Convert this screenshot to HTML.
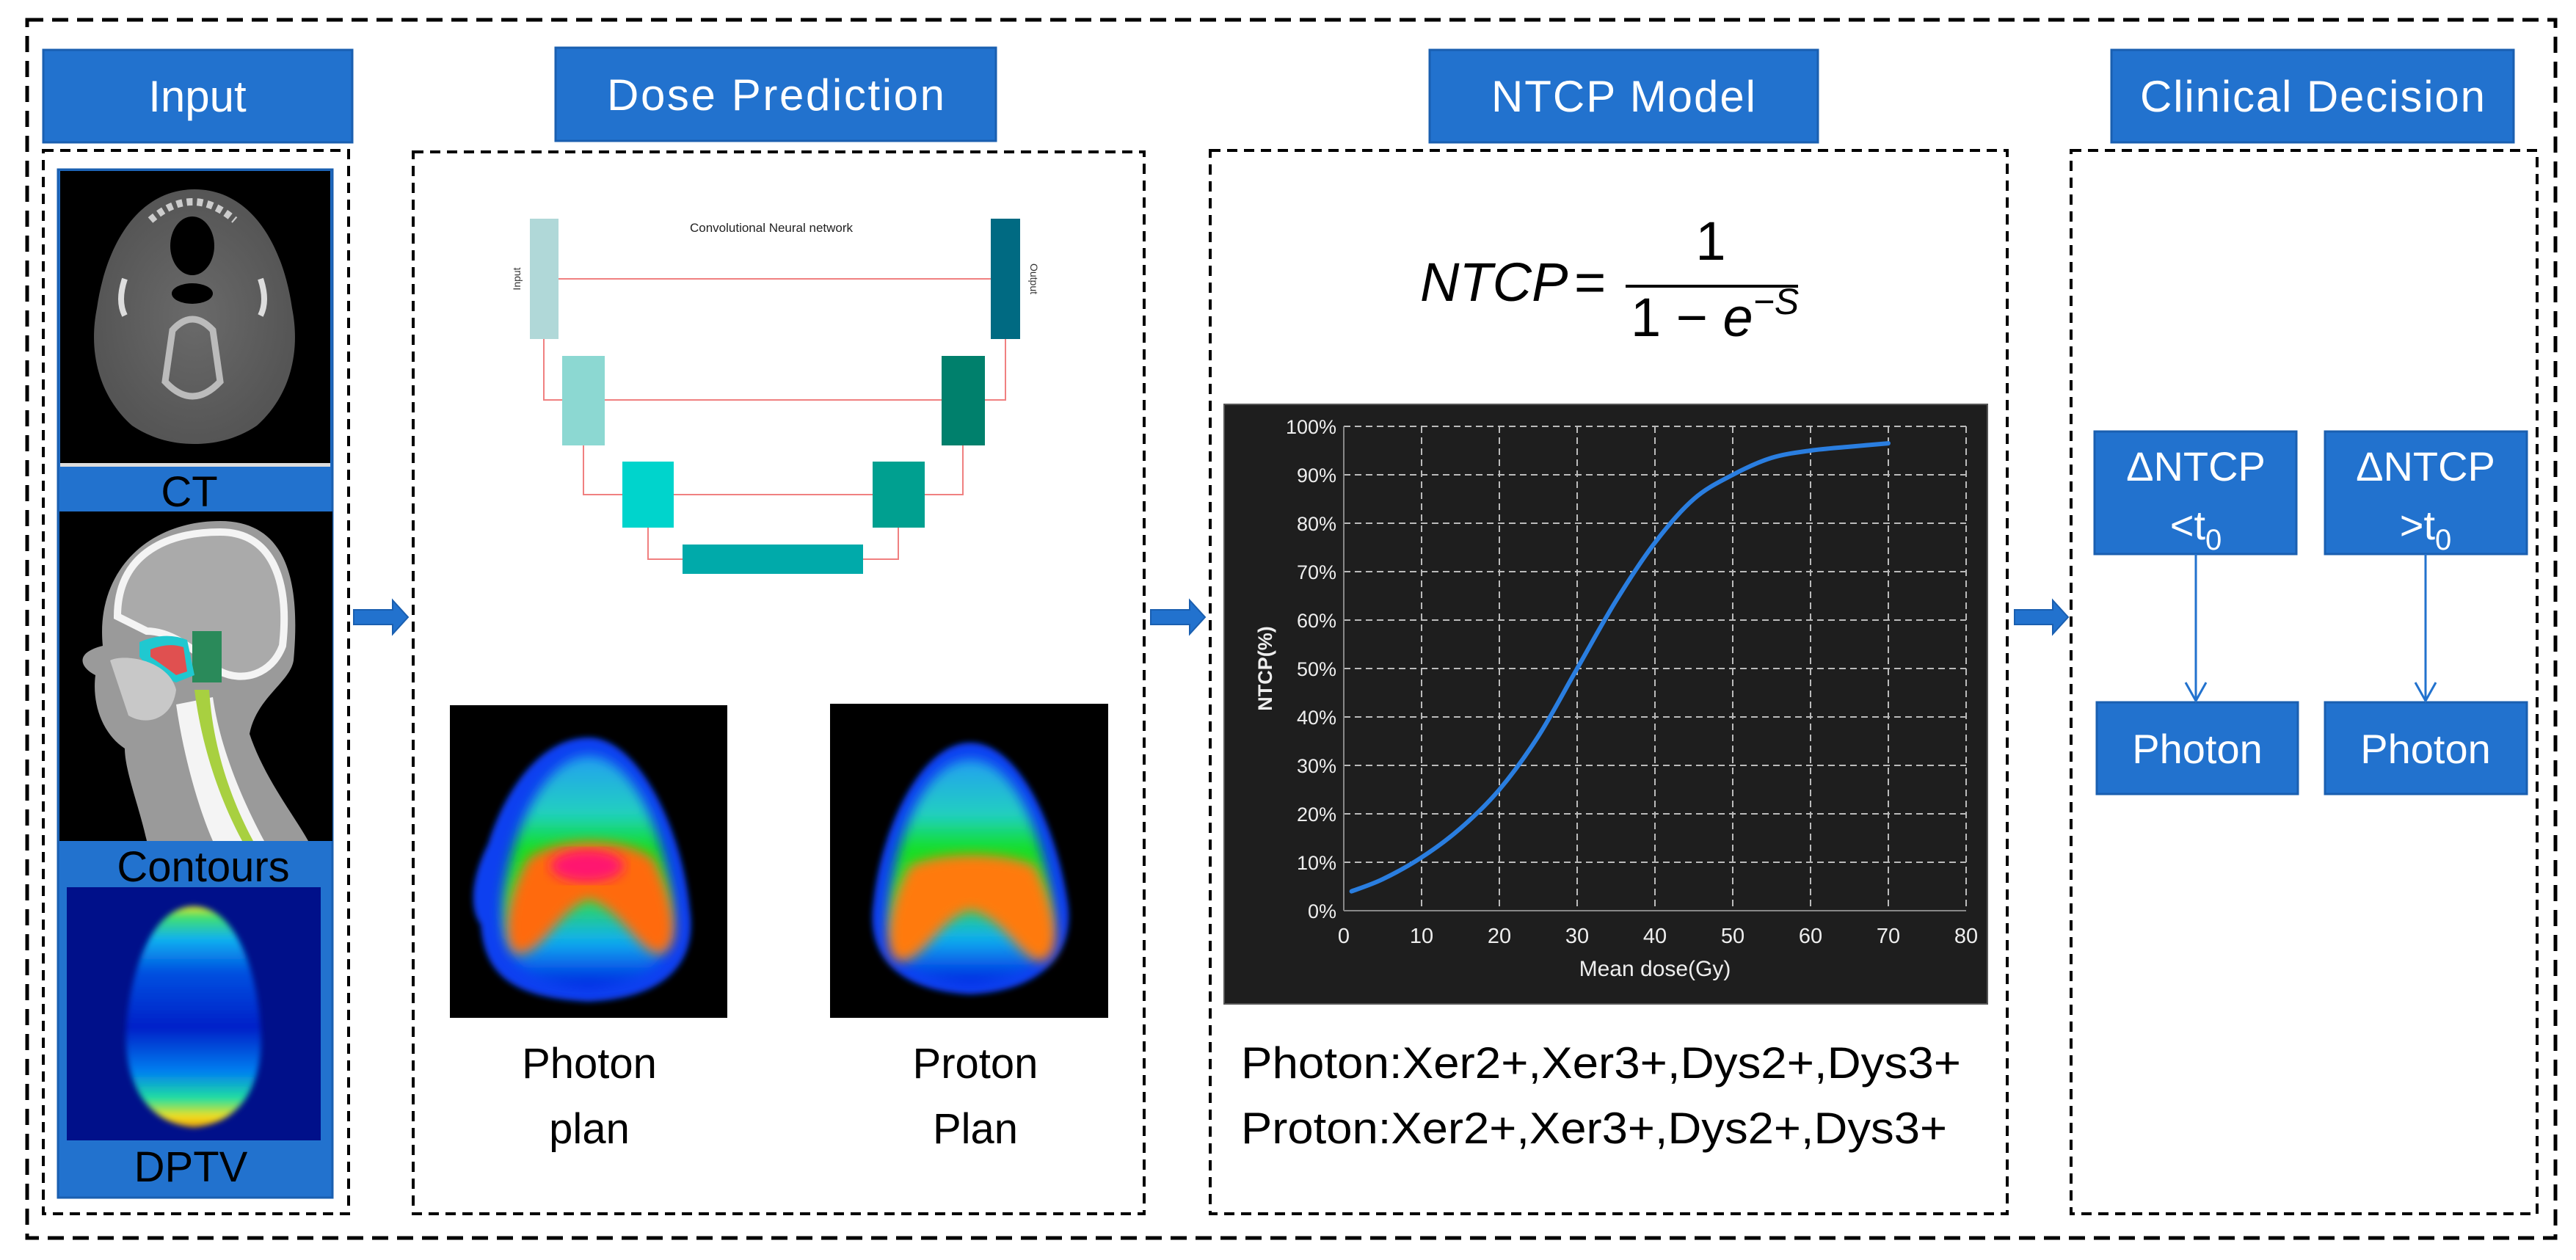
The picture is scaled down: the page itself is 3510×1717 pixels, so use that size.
<!DOCTYPE html>
<html><head><meta charset="utf-8"><style>
html,body{margin:0;padding:0;background:#fff;}
svg{display:block;}
text{font-family:"Liberation Sans",sans-serif;}
</style></head><body>
<svg id="root" width="3510" height="1717" viewBox="0 0 3510 1717" xmlns="http://www.w3.org/2000/svg">
<defs>
 <radialGradient id="ctg" cx="50%" cy="50%" r="50%"><stop offset="0" stop-color="#6a6a6a"/><stop offset="1" stop-color="#555"/></radialGradient>
 <linearGradient id="dptvg" x1="0" y1="0" x2="0" y2="1">
  <stop offset="0" stop-color="#e8e020"/><stop offset="0.05" stop-color="#40e070"/><stop offset="0.15" stop-color="#10b0f0"/><stop offset="0.3" stop-color="#0050e0"/><stop offset="0.55" stop-color="#0020c8"/><stop offset="0.75" stop-color="#0080f0"/><stop offset="0.87" stop-color="#20e0a0"/><stop offset="0.95" stop-color="#f0e020"/><stop offset="1" stop-color="#f0a000"/>
 </linearGradient>
 <linearGradient id="doseg" x1="0" y1="0" x2="0" y2="1">
  <stop offset="0" stop-color="#20a0f0"/><stop offset="0.25" stop-color="#20d0c0"/><stop offset="0.4" stop-color="#10e020"/><stop offset="0.6" stop-color="#30e040"/><stop offset="0.8" stop-color="#10b0f0"/><stop offset="1" stop-color="#0020e0"/>
 </linearGradient>
 <filter id="blur8"><feGaussianBlur stdDeviation="8"/></filter>
 <filter id="blur4"><feGaussianBlur stdDeviation="4"/></filter>
</defs>

<rect x="37" y="27" width="3445" height="1660" fill="none" stroke="#000" stroke-width="5" stroke-dasharray="22 12"/>

<g font-size="60" fill="#fff" text-anchor="middle">
 <rect x="59" y="68" width="421" height="126" fill="#2272ce" stroke="#1a5fb0" stroke-width="3"/>
 <text x="269" y="152" fill="#fff">Input</text>
 <rect x="757" y="65" width="600" height="127" fill="#2272ce" stroke="#1a5fb0" stroke-width="3"/>
 <text x="1057" y="150" fill="#fff" textLength="460">Dose Prediction</text>
 <rect x="1948" y="68" width="529" height="126" fill="#2272ce" stroke="#1a5fb0" stroke-width="3"/>
 <text x="2212" y="152" fill="#fff" textLength="360">NTCP Model</text>
 <rect x="2877" y="68" width="548" height="126" fill="#2272ce" stroke="#1a5fb0" stroke-width="3"/>
 <text x="3151" y="152" fill="#fff" textLength="470">Clinical Decision</text>
</g>

<g fill="none" stroke="#000" stroke-width="4" stroke-dasharray="14 9">
 <rect x="59" y="205" width="416" height="1449"/>
 <rect x="563" y="207" width="996" height="1447"/>
 <rect x="1649" y="205" width="1086" height="1449"/>
 <rect x="2822" y="205" width="635" height="1449"/>
</g>

<g fill="#2272ce" stroke="#1a5fb0" stroke-width="2">
 <path d="M482 831 H535 V818 L556 841 L535 864 V851 H482 Z"/>
 <path d="M1568 831 H1621 V818 L1642 841 L1621 864 V851 H1568 Z"/>
 <path d="M2745 831 H2797 V818 L2818 841 L2797 864 V851 H2745 Z"/>
</g>

<g>
 <rect x="79" y="231" width="374" height="1401" fill="#2272ce" stroke="#1a5fb0" stroke-width="3"/>
 <rect x="82" y="233" width="368" height="400" fill="#000"/>
 <path d="M265 258 C340 258 385 330 398 420 C410 480 395 540 350 580 C320 600 290 605 265 605 C240 605 210 600 180 580 C135 540 120 480 132 420 C145 330 190 258 265 258 Z" fill="url(#ctg)"/>
 <ellipse cx="262" cy="335" rx="30" ry="40" fill="#000"/>
 <path d="M205 300 Q262 250 320 300" fill="none" stroke="#ccc" stroke-width="10" stroke-dasharray="8 6"/>
 <ellipse cx="262" cy="400" rx="28" ry="14" fill="#000"/>
 <path d="M235 450 Q262 420 290 450 L300 520 Q262 560 225 520 Z" fill="none" stroke="#bbb" stroke-width="9"/>
 <path d="M170 380 Q160 410 170 430 M355 380 Q365 410 355 430" stroke="#ddd" stroke-width="8" fill="none"/>
 <rect x="82" y="631" width="368" height="5" fill="#ddd"/>
 <text x="258" y="690" font-size="58" fill="#000" text-anchor="middle">CT</text>
 <rect x="81" y="697" width="372" height="449" fill="#000"/>
 <path d="M140 880 C130 780 200 710 300 710 C390 710 410 790 400 900 C395 930 350 950 340 1000 C360 1060 400 1110 420 1146 H200 C190 1100 170 1050 170 1020 C140 1000 125 960 130 920 C110 910 100 890 140 880 Z" fill="#9a9a9a"/>
 <path d="M160 840 C160 760 220 725 300 725 C370 725 395 790 385 880 C370 920 330 930 300 915 C260 880 230 860 200 860 Z" fill="#aaa" stroke="#f4f4f4" stroke-width="10"/>
 <path d="M240 960 C250 1030 270 1100 290 1146 H360 C330 1090 300 1020 290 950 Z" fill="#f4f4f4"/>
 <path d="M265 940 C275 1020 300 1090 330 1146 H345 C315 1090 290 1020 285 940 Z" fill="#a8d040"/>
 <rect x="262" y="860" width="40" height="70" fill="#2a8a5a"/>
 <path d="M190 875 Q225 860 255 872 L265 920 L240 930 Q210 920 190 895 Z" fill="#20c8d0"/>
 <path d="M205 885 Q230 875 250 882 L255 915 L240 920 Q220 905 205 895 Z" fill="#e05050"/>
 <path d="M150 900 C170 890 230 900 240 940 C235 980 200 990 175 975 Z" fill="#c8c8c8"/>
 <text x="277" y="1201" font-size="58" fill="#000" text-anchor="middle">Contours</text>
 <rect x="91" y="1209" width="346" height="345" fill="#00108a"/>
 <path d="M264 1235 C320 1235 350 1320 355 1400 C360 1460 340 1530 264 1536 C190 1530 168 1460 172 1400 C178 1320 208 1235 264 1235 Z" fill="url(#dptvg)" filter="url(#blur4)"/>
 <text x="260" y="1610" font-size="58" fill="#000" text-anchor="middle">DPTV</text>
</g>

<g>
 <text x="1051" y="316" font-size="17" fill="#222" text-anchor="middle">Convolutional Neural network</text>
 <g fill="none" stroke="#f08080" stroke-width="2">
  <path d="M761 380 H1350"/><path d="M741 462 V545 H766"/><path d="M824 545 H1283"/><path d="M1342 545 H1370 V462"/>
  <path d="M795 607 V674 H848"/><path d="M918 674 H1189"/><path d="M1260 674 H1312 V607"/>
  <path d="M883 719 V762 H930"/><path d="M1176 762 H1224 V719"/>
 </g>
 <rect x="722" y="298" width="39" height="164" fill="#b0d8d8"/>
 <rect x="1350" y="298" width="40" height="164" fill="#006a82"/>
 <rect x="766" y="485" width="58" height="122" fill="#8cd8d2"/>
 <rect x="1283" y="485" width="59" height="122" fill="#00806c"/>
 <rect x="848" y="629" width="70" height="90" fill="#00d4cc"/>
 <rect x="1189" y="629" width="71" height="90" fill="#00a090"/>
 <rect x="930" y="742" width="246" height="40" fill="#00aaaa"/>
 <text font-size="14" fill="#333" transform="translate(709 380) rotate(-90)" text-anchor="middle">Input</text>
 <text font-size="14" fill="#333" transform="translate(1404 380) rotate(90)" text-anchor="middle">Output</text>
</g>

<g>
 <rect x="613" y="961" width="378" height="426" fill="#000"/>
 <path d="M802 1005 C870 1005 930 1130 940 1240 C950 1310 910 1360 802 1365 C700 1360 660 1330 655 1260 C640 1240 640 1200 665 1150 C690 1070 740 1005 802 1005 Z" fill="#1040f0" filter="url(#blur4)"/>
 <path d="M802 1030 C860 1030 905 1130 915 1230 C920 1300 890 1340 802 1345 C710 1340 680 1300 685 1230 C695 1130 745 1030 802 1030 Z" fill="url(#doseg)" filter="url(#blur8)"/>
 <path d="M720 1170 C760 1140 850 1140 890 1170 C920 1230 930 1290 900 1300 C870 1300 850 1240 802 1225 C760 1240 740 1300 705 1300 C680 1290 690 1220 720 1170 Z" fill="#ff6a10" filter="url(#blur8)"/>
 <ellipse cx="800" cy="1180" rx="50" ry="22" fill="#ff1870" filter="url(#blur8)"/>
</g>
<g>
 <rect x="1131" y="959" width="379" height="428" fill="#000"/>
 <path d="M1322 1012 C1390 1012 1440 1130 1455 1230 C1465 1300 1420 1350 1322 1355 C1220 1350 1180 1300 1190 1230 C1200 1130 1255 1012 1322 1012 Z" fill="#1040f0" filter="url(#blur4)"/>
 <path d="M1322 1035 C1380 1035 1420 1130 1432 1230 C1440 1295 1405 1335 1322 1340 C1235 1335 1205 1295 1212 1230 C1222 1130 1265 1035 1322 1035 Z" fill="url(#doseg)" filter="url(#blur8)"/>
 <path d="M1240 1180 C1280 1160 1370 1160 1410 1180 C1440 1240 1450 1300 1420 1310 C1390 1310 1370 1250 1322 1240 C1280 1250 1260 1310 1225 1310 C1200 1300 1210 1230 1240 1180 Z" fill="#ff7a10" filter="url(#blur8)"/>
</g>
<g font-size="58" fill="#000" text-anchor="middle">
 <text x="803" y="1469">Photon</text>
 <text x="803" y="1558">plan</text>
 <text x="1329" y="1469">Proton</text>
 <text x="1329" y="1558">Plan</text>
</g>

<g fill="#000">
 <text x="1935" y="410" font-size="74" font-family="Liberation Serif, serif" font-style="italic">NTCP</text>
 <text x="2145" y="410" font-size="74" font-family="Liberation Serif, serif">=</text>
 <line x1="2215" y1="390" x2="2450" y2="390" stroke="#000" stroke-width="4"/>
 <text x="2331" y="354" font-size="74" text-anchor="middle" font-family="Liberation Serif, serif">1</text>
 <text x="2222" y="458" font-size="74" font-family="Liberation Serif, serif">1 − <tspan font-style="italic">e</tspan><tspan dy="-30" font-size="50" font-style="italic">−S</tspan></text>
</g>

<rect x="1668" y="551" width="1040" height="817" fill="#1e1e1e" stroke="#555" stroke-width="2"/>
<g id="chart"></g>

<g font-size="60" fill="#000">
 <text x="1691" y="1469" textLength="981" lengthAdjust="spacingAndGlyphs">Photon:Xer2+,Xer3+,Dys2+,Dys3+</text>
 <text x="1691" y="1558" textLength="962" lengthAdjust="spacingAndGlyphs">Proton:Xer2+,Xer3+,Dys2+,Dys3+</text>
</g>

<g font-size="56" fill="#fff" text-anchor="middle">
 <rect x="2854" y="588" width="275" height="167" fill="#2272ce" stroke="#1a5fb0" stroke-width="3"/>
 <text x="2992" y="655" fill="#fff">ΔNTCP</text>
 <text x="2992" y="735" fill="#fff">&lt;t<tspan font-size="40" dy="14">0</tspan></text>
 <rect x="3168" y="588" width="275" height="167" fill="#2272ce" stroke="#1a5fb0" stroke-width="3"/>
 <text x="3305" y="655" fill="#fff">ΔNTCP</text>
 <text x="3305" y="735" fill="#fff">&gt;t<tspan font-size="40" dy="14">0</tspan></text>
 <rect x="2857" y="957" width="274" height="125" fill="#2272ce" stroke="#1a5fb0" stroke-width="3"/>
 <text x="2994" y="1040" fill="#fff">Photon</text>
 <rect x="3168" y="957" width="275" height="125" fill="#2272ce" stroke="#1a5fb0" stroke-width="3"/>
 <text x="3305" y="1040" fill="#fff">Photon</text>
</g>
<g stroke="#2272ce" stroke-width="3" fill="none">
 <path d="M2992 755 V955 M2978 930 L2992 955 L3006 930"/>
 <path d="M3305 755 V955 M3291 930 L3305 955 L3319 930"/>
</g>
</svg>
<script>
const doseValues = [1, 5, 10, 15, 20, 25, 30, 35, 40, 45, 50, 55, 60, 65, 70];
const ntcpValues = [4, 6.5, 11, 17, 25, 36, 50, 64, 76, 85, 90, 93.5, 95, 95.8, 96.5];
const xTicks = [0, 10, 20, 30, 40, 50, 60, 70, 80];
const yTicks = [0, 10, 20, 30, 40, 50, 60, 70, 80, 90, 100];
const yTickLabels = ["0%","10%","20%","30%","40%","50%","60%","70%","80%","90%","100%"];

const NS = "http://www.w3.org/2000/svg";
const g = document.getElementById("chart");
const X0 = 1831, X1 = 2679, Y0 = 1241, Y1 = 581;
function sx(v){ return X0 + (v - 0) / 80 * (X1 - X0); }
function sy(v){ return Y0 - v / 100 * (Y0 - Y1); }
function mk(tag, attrs){ const e = document.createElementNS(NS, tag); for (const k in attrs) e.setAttribute(k, attrs[k]); g.appendChild(e); return e; }

yTicks.forEach((t, i) => {
  const ln = mk("line", {x1: X0, x2: X1, y1: sy(t), y2: sy(t), stroke: t === 0 ? "#888" : "#bbb", "stroke-width": 2, "stroke-dasharray": t === 0 ? "" : "9 6"});
  
  
  const tx = mk("text", {x: X0 - 10, y: sy(t) + 10, "font-size": 27, fill: "#eee", "text-anchor": "end"});
  tx.textContent = yTickLabels[i];
  
  
});
xTicks.forEach(t => {
  const ln = mk("line", {x1: sx(t), x2: sx(t), y1: Y1, y2: Y0, stroke: t === 0 ? "#888" : "#bbb", "stroke-width": 2, "stroke-dasharray": t === 0 ? "" : "9 6"});
  
  
  const tx = mk("text", {x: sx(t), y: 1285, "font-size": 29, fill: "#eee", "text-anchor": "middle"});
  tx.textContent = String(t);
  
  
});
const xt = mk("text", {x: sx(40), y: 1330, "font-size": 30, fill: "#eee", "text-anchor": "middle"});
xt.textContent = "Mean dose(Gy)";


const yt = mk("text", {x: 0, y: 0, "font-size": 27, "font-weight": "bold", fill: "#eee", "text-anchor": "middle", transform: "translate(1733 911) rotate(-90)"});
yt.textContent = "NTCP(%)";



const pts = doseValues.map((d, i) => [sx(d), sy(ntcpValues[i])]);
let d = "M" + pts[0][0] + " " + pts[0][1];
for (let i = 0; i < pts.length - 1; i++) {
  const p0 = pts[Math.max(i - 1, 0)], p1 = pts[i], p2 = pts[i + 1], p3 = pts[Math.min(i + 2, pts.length - 1)];
  const c1 = [p1[0] + (p2[0] - p0[0]) / 6, p1[1] + (p2[1] - p0[1]) / 6];
  const c2 = [p2[0] - (p3[0] - p1[0]) / 6, p2[1] - (p3[1] - p1[1]) / 6];
  d += " C" + c1.join(" ") + " " + c2.join(" ") + " " + p2.join(" ");
}
const curve = mk("path", {d: d, fill: "none", stroke: "#2a7ee0", "stroke-width": 6, "stroke-linecap": "round"});


</script>
</body></html>
